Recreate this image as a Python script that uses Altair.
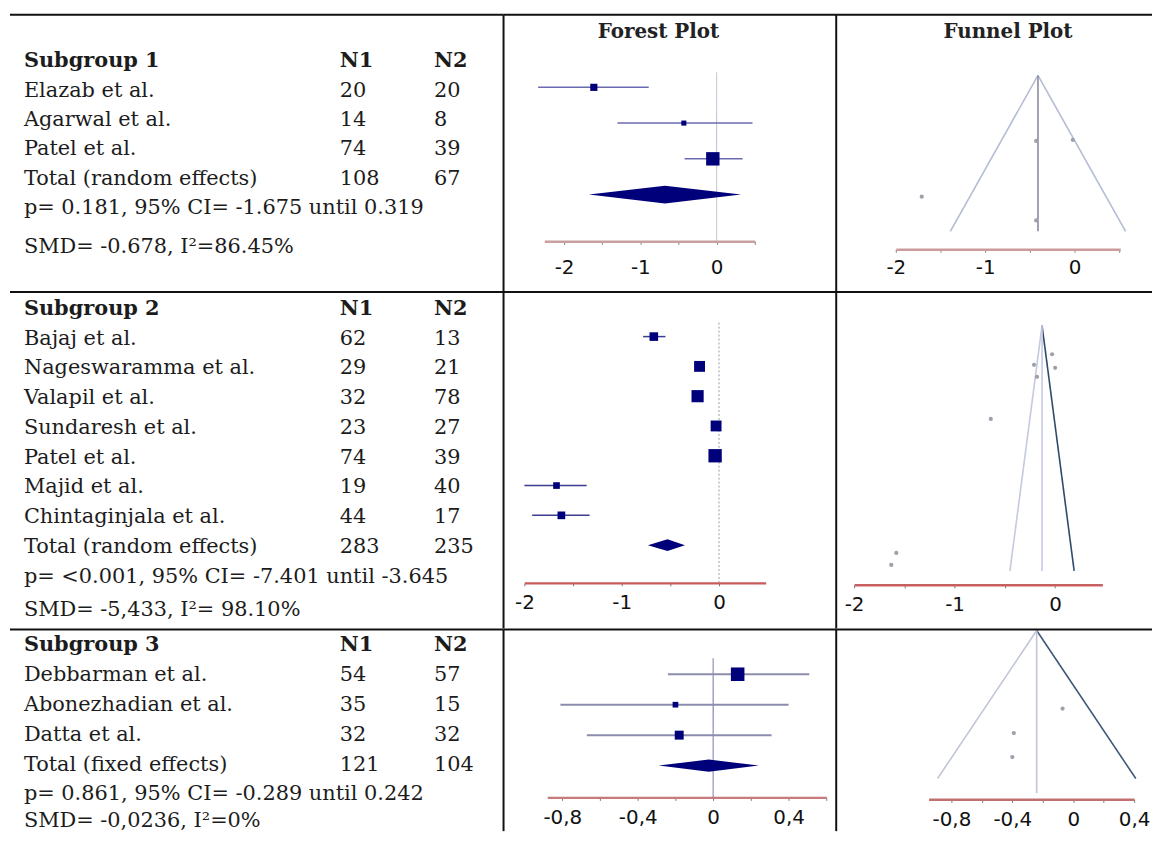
import altair as alt
import pandas as pd

# ---------------- data ----------------
subgroup_titles = ["Subgroup 1", "Subgroup 2", "Subgroup 3"]
panel_titles = ["Forest Plot", "Funnel Plot"]

sg1_study = ["Elazab et al.", "Agarwal et al.", "Patel et al.", "Total (random effects)"]
sg1_n1 = [20, 14, 74, 108]
sg1_n2 = [20, 8, 39, 67]
sg1_stats = ["p= 0.181, 95% CI= -1.675 until 0.319", "SMD= -0.678, I²=86.45%"]
sg1_smd = [-1.61, -0.43, -0.05]
sg1_lo = [-2.34, -1.30, -0.42]
sg1_hi = [-0.89, 0.47, 0.34]
sg1_weight = [20, 10, 70]
sg1_pooled = [-0.678, -1.675, 0.319]          # estimate, lower, upper
sg1_funnel_smd = [-0.02, -0.43, -0.43, -1.71]
sg1_funnel_se = [0.207, 0.21, 0.465, 0.389]
sg1_funnel_center = -0.41
sg1_funnel_semax = 0.5
sg1_funnel_vline_se = 0.5

sg2_study = ["Bajaj et al.", "Nageswaramma et al.", "Valapil et al.", "Sundaresh et al.",
             "Patel et al.", "Majid et al.", "Chintaginjala et al.", "Total (random effects)"]
sg2_n1 = [62, 29, 32, 23, 74, 19, 44, 283]
sg2_n2 = [13, 21, 78, 27, 39, 40, 17, 235]
sg2_stats = ["p= <0.001, 95% CI= -7.401 until -3.645", "SMD= -5,433, I²= 98.10%"]
sg2_smd = [-0.67, -0.20, -0.22, -0.03, -0.04, -1.67, -1.62]
sg2_lo = [-0.78, -0.25, -0.27, -0.08, -0.09, -2.00, -1.92]
sg2_hi = [-0.55, -0.15, -0.17, 0.02, 0.01, -1.36, -1.33]
sg2_weight = [10, 16, 20, 16, 24, 6, 8]
sg2_pooled = [-0.53, -0.73, -0.35]
sg2_funnel_smd = [-0.21, -0.18, -0.03, 0.0, -0.64, -1.58, -1.63]
sg2_funnel_se = [0.026, 0.034, 0.019, 0.028, 0.062, 0.151, 0.159]
sg2_funnel_center = -0.13
sg2_funnel_semax = 0.163
sg2_funnel_vline_se = 0.163

sg3_study = ["Debbarman et al.", "Abonezhadian et al.", "Datta et al.", "Total (fixed effects)"]
sg3_n1 = [54, 35, 32, 121]
sg3_n2 = [57, 15, 32, 104]
sg3_stats = ["p= 0.861, 95% CI= -0.289 until 0.242", "SMD= -0,0236, I²=0%"]
sg3_smd = [0.13, -0.20, -0.18]
sg3_lo = [-0.24, -0.81, -0.67]
sg3_hi = [0.51, 0.40, 0.31]
sg3_weight = [62, 11, 27]
sg3_pooled = [-0.0236, -0.289, 0.242]
sg3_funnel_smd = [-0.07, -0.39, -0.40]
sg3_funnel_se = [0.175, 0.23, 0.284]
sg3_funnel_center = -0.24
sg3_funnel_semax = 0.332
sg3_funnel_vline_se = 0.365

forest_ticks = [[-2, -1.5, -1, -0.5, 0, 0.5], [-2, -1.5, -1, -0.5, 0],
                [-0.8, -0.6, -0.4, -0.2, 0, 0.2, 0.4, 0.6]]
funnel_ticks = [[-2, -1.5, -1, -0.5, 0, 0.5], [-2, -1.5, -1, -0.5, 0],
                [-0.8, -0.6, -0.4, -0.2, 0, 0.2, 0.4]]

groups = [
    dict(study=sg1_study, n1=sg1_n1, n2=sg1_n2, stats=sg1_stats, smd=sg1_smd, lo=sg1_lo, hi=sg1_hi,
         w=sg1_weight, pooled=sg1_pooled, fsmd=sg1_funnel_smd, fse=sg1_funnel_se,
         fc=sg1_funnel_center, fsemax=sg1_funnel_semax, fv=sg1_funnel_vline_se),
    dict(study=sg2_study, n1=sg2_n1, n2=sg2_n2, stats=sg2_stats, smd=sg2_smd, lo=sg2_lo, hi=sg2_hi,
         w=sg2_weight, pooled=sg2_pooled, fsmd=sg2_funnel_smd, fse=sg2_funnel_se,
         fc=sg2_funnel_center, fsemax=sg2_funnel_semax, fv=sg2_funnel_vline_se),
    dict(study=sg3_study, n1=sg3_n1, n2=sg3_n2, stats=sg3_stats, smd=sg3_smd, lo=sg3_lo, hi=sg3_hi,
         w=sg3_weight, pooled=sg3_pooled, fsmd=sg3_funnel_smd, fse=sg3_funnel_se,
         fc=sg3_funnel_center, fsemax=sg3_funnel_semax, fv=sg3_funnel_vline_se),
]

# ---------------- layout / style ----------------
W = [499, 335, 311]
H = [283, 339, 204]
TOP_Y = [4, 0, 1]
SERIF = "DejaVu Serif"
SANS = "DejaVu Sans"
TXT = "#1c1c1c"
NAVY = "#00007a"
BORDER = "#111111"

NAME_X, N1_X, N2_X = 16, 334, 429
TAB_YDOM = [[0, 6], [0, 10], [0, 6]]
TAB_YRANGE = [[51, 228], [17, 317], [17, 197]]
SMD_DY = [10, 3, -3]
TAB_FS = 21
HEAD_X = [156, 173]
HEAD_Y = 21
HEAD_FS = 20

F_XDOM = [[-2.26, 0.5], [-2.0, 0.48], [-0.88, 0.6]]
F_XRANGE = [[41, 253], [21, 264], [44, 325]]
F_YDOM = [[0, 3], [0, 7], [0, 3]]
F_YRANGE = [[77, 185], [45, 255], [46, 138]]
F_AXY = [232, 293, 170]
F_ZERO_Y = [62, 31, 30]
F_ZERO_DASH = [[1, 0], [2, 2], [1, 0]]
F_ZERO_COLOR = ["#b8b8cc", "#9a9aaa", "#6a6aa8"]
F_LABPAD = [13, 7, 7]
F_AXCOLOR = ["#c9a0a0", "#c85a5a", "#c87a7a"]
F_CICOLOR = ["#6a6ab0", "#3c3c90", "#8c8cac"]
F_CIWIDTH = [1.5, 1.5, 2]
F_SMAX = [260, 750, 300]
F_DIAH = [0.25, 0.2, 0.2]

U_XDOM = [[-2, 0.51], [-2, 0.47], [-0.95, 0.4]]
U_XRANGE = [[60, 286], [18, 268], [93, 300]]
U_YRANGE = [[65, 222], [34, 281], [2, 151]]
U_AXY = [240, 295, 172]
U_LABPAD = [5, 7, 7]
U_AXCOLOR = ["#cc9c9c", "#c86060", "#c07070"]
U_LEFT = ["#b4bcd4", "#c4cae0", "#c0c6d8"]
U_RIGHT = ["#b4bcd4", "#2e4a6a", "#405878"]
U_MID = ["#8a8aa0", "#c8c8e4", "#c4c4d4"]

one = pd.DataFrame({"a": [0]})


def border(i, w, h, vertical):
    layers = [alt.Chart(one).mark_rule(color=BORDER, strokeWidth=2).encode(
        x=alt.value(2 if not vertical else 0), x2=alt.value(w + (7 if w == W[2] else 0)),
        y=alt.value(TOP_Y[i]))]
    if vertical:
        layers.append(alt.Chart(one).mark_rule(color=BORDER, strokeWidth=2).encode(
            x=alt.value(0), y=alt.value(TOP_Y[i]), y2=alt.value(h)))
    return layers


def heading(k):
    d = pd.DataFrame({"t": [panel_titles[k]]})
    return alt.Chart(d).mark_text(font=SERIF, fontSize=HEAD_FS, fontWeight="bold", color="#222222",
                                  align="center", baseline="middle").encode(
        text="t:N", x=alt.value(HEAD_X[k]), y=alt.value(HEAD_Y))


def table_panel(i, g):
    n = len(g["study"])
    df = pd.DataFrame({"row": list(range(1, n + 1)), "study": g["study"],
                       "n1": [str(v) for v in g["n1"]], "n2": [str(v) for v in g["n2"]]})
    head = pd.DataFrame({"row": [0], "title": [subgroup_titles[i]], "h1": ["N1"], "h2": ["N2"]})
    pline = pd.DataFrame({"row": [n + 1], "text": [g["stats"][0]]})
    sline = pd.DataFrame({"row": [n + 2], "text": [g["stats"][1]]})
    Y = alt.Y("row:Q", scale=alt.Scale(domain=TAB_YDOM[i], range=TAB_YRANGE[i], zero=False, nice=False),
              axis=None)
    kw = dict(font=SERIF, fontSize=TAB_FS, color=TXT, align="left", baseline="middle")
    layers = [
        alt.Chart(head).mark_text(fontWeight="bold", **kw).encode(x=alt.value(NAME_X), y=Y, text="title:N"),
        alt.Chart(head).mark_text(fontWeight="bold", **kw).encode(x=alt.value(N1_X), y=Y, text="h1:N"),
        alt.Chart(head).mark_text(fontWeight="bold", **kw).encode(x=alt.value(N2_X), y=Y, text="h2:N"),
        alt.Chart(df).mark_text(**kw).encode(x=alt.value(NAME_X), y=Y, text="study:N"),
        alt.Chart(df).mark_text(**kw).encode(x=alt.value(N1_X), y=Y, text="n1:N"),
        alt.Chart(df).mark_text(**kw).encode(x=alt.value(N2_X), y=Y, text="n2:N"),
        alt.Chart(pline).mark_text(**kw).encode(x=alt.value(NAME_X), y=Y, text="text:N"),
        alt.Chart(sline).mark_text(dy=SMD_DY[i], **kw).encode(x=alt.value(NAME_X), y=Y, text="text:N"),
    ] + border(i, W[0], H[i], False)
    return alt.layer(*layers).properties(width=W[0], height=H[i])


def tick_label_expr(i):
    if i < 2:
        return "datum.value % 1 == 0 ? '' + datum.value : ''"
    return "round(datum.value * 10) % 4 == 0 ? replace('' + datum.value, '.', ',') : ''"


def forest_panel(i, g):
    n = len(g["smd"])
    df = pd.DataFrame({"row": list(range(n)), "smd": g["smd"], "lo": g["lo"], "hi": g["hi"], "w": g["w"]})
    est, plo, phi = g["pooled"]
    h = F_DIAH[i]
    dia = pd.DataFrame({"x": [plo, est, phi], "y1": [n, n - h, n], "y2": [n, n + h, n]})
    zero = pd.DataFrame({"x": [0]})
    xs = alt.Scale(domain=F_XDOM[i], range=F_XRANGE[i], zero=False, nice=False)
    ys = alt.Scale(domain=F_YDOM[i], range=F_YRANGE[i], zero=False, nice=False)
    ax = alt.Axis(values=forest_ticks[i], labelExpr=tick_label_expr(i), title=None, grid=False,
                  offset=F_AXY[i] - H[i], domainColor=F_AXCOLOR[i], domainWidth=2.5,
                  tickColor="#777777", tickSize=3, tickWidth=1, labelFont=SANS, labelFontSize=20,
                  labelColor="#111111", labelPadding=F_LABPAD[i], labelOverlap=False, labelFlush=False)
    layers = [
        alt.Chart(zero).mark_rule(color=F_ZERO_COLOR[i], strokeWidth=1, strokeDash=F_ZERO_DASH[i]).encode(
            x=alt.X("x:Q", scale=xs, axis=ax), y=alt.value(F_ZERO_Y[i]), y2=alt.value(F_AXY[i])),
        alt.Chart(df).mark_rule(color=F_CICOLOR[i], strokeWidth=F_CIWIDTH[i]).encode(
            x=alt.X("lo:Q", scale=xs, axis=ax), x2="hi:Q", y=alt.Y("row:Q", scale=ys, axis=None)),
        alt.Chart(df).mark_square(color=NAVY, opacity=1).encode(
            x=alt.X("smd:Q", scale=xs, axis=ax), y=alt.Y("row:Q", scale=ys, axis=None),
            size=alt.Size("w:Q", scale=alt.Scale(domain=[0, 100], range=[0, F_SMAX[i]]), legend=None)),
        alt.Chart(dia).mark_area(color=NAVY, opacity=1).encode(
            x=alt.X("x:Q", scale=xs, axis=ax), y=alt.Y("y1:Q", scale=ys, axis=None), y2="y2:Q"),
    ] + border(i, W[1], H[i], True)
    if i == 0:
        layers.append(heading(0))
    return alt.layer(*layers).properties(width=W[1], height=H[i])


def funnel_panel(i, g):
    c, se, vse = g["fc"], g["fsemax"], g["fv"]
    left = pd.DataFrame({"x": [c], "y": [0], "x2": [c - 1.96 * se], "y2": [se]})
    right = pd.DataFrame({"x": [c], "y": [0], "x2": [c + 1.96 * se], "y2": [se]})
    mid = pd.DataFrame({"x": [c], "y": [0], "x2": [c], "y2": [vse]})
    pts = pd.DataFrame({"smd": g["fsmd"], "se": g["fse"]})
    xs = alt.Scale(domain=U_XDOM[i], range=U_XRANGE[i], zero=False, nice=False)
    ys = alt.Scale(domain=[0, se], range=U_YRANGE[i], zero=False, nice=False)
    ax = alt.Axis(values=funnel_ticks[i], labelExpr=tick_label_expr(i), title=None, grid=False,
                  offset=U_AXY[i] - H[i], domainColor=U_AXCOLOR[i], domainWidth=2.5,
                  tickColor="#777777", tickSize=3, tickWidth=1, labelFont=SANS, labelFontSize=20,
                  labelColor="#111111", labelPadding=U_LABPAD[i], labelOverlap=False, labelFlush=False)

    def seg(d, color):
        return alt.Chart(d).mark_rule(strokeWidth=1.6, color=color).encode(
            x=alt.X("x:Q", scale=xs, axis=ax), x2="x2:Q",
            y=alt.Y("y:Q", scale=ys, axis=None), y2="y2:Q")

    layers = [
        seg(left, U_LEFT[i]), seg(right, U_RIGHT[i]), seg(mid, U_MID[i]),
        alt.Chart(pts).mark_circle(color="#a0a0ac", size=18, opacity=1).encode(
            x=alt.X("smd:Q", scale=xs, axis=ax), y=alt.Y("se:Q", scale=ys, axis=None)),
    ] + border(i, W[2], H[i], True)
    if i == 0:
        layers.append(heading(1))
    return alt.layer(*layers).properties(width=W[2], height=H[i])


panels = []
for i, g in enumerate(groups):
    panels += [table_panel(i, g), forest_panel(i, g), funnel_panel(i, g)]

chart = (alt.concat(*panels, columns=3, spacing=0, bounds="flush", align="each")
         .resolve_scale(size="independent", color="independent")
         .properties(padding=0)
         .configure_view(stroke=None))

chart.save("out.html", embed_options={"renderer": "svg", "actions": False})
